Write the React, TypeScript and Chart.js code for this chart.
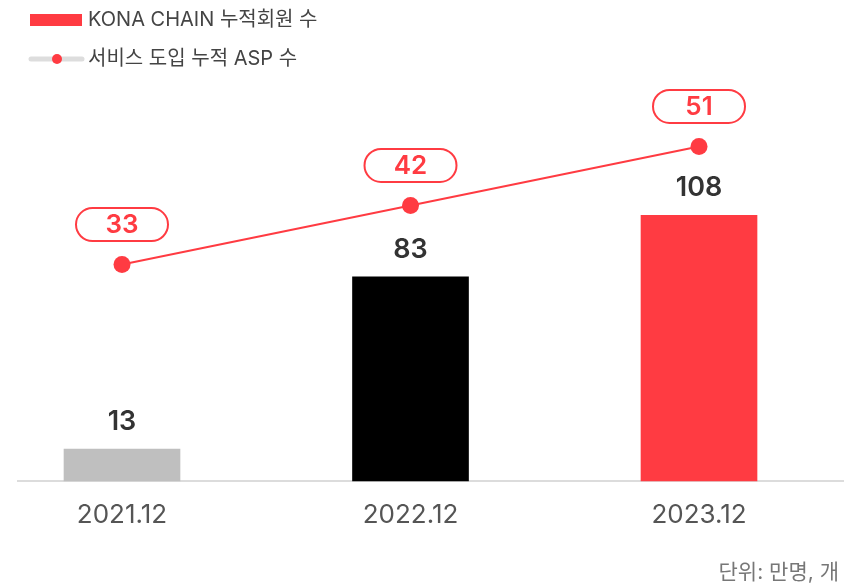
import { useEffect, useRef } from 'react';
import { Chart, registerables } from 'chart.js';

Chart.register(...registerables);

const categories = ['2021.12', '2022.12', '2023.12'];
const memberValues = [13, 83, 108];
const aspValues = [33, 42, 51];
const barColors = ['#BFBFBF', '#000000', '#FF3B42'];
const memberLabel = 'KONA CHAIN 누적회원 수';
const aspLabel = '서비스 도입 누적 ASP 수';
const unitText = '단위: 만명, 개';

const RED = '#FF3B42';
const FONT = "Inter, 'Noto Sans CJK KR', sans-serif";

const overlayPlugin = {
  id: 'overlay',
  afterDatasetsDraw(chart: any) {
    const ctx = chart.ctx as CanvasRenderingContext2D;
    ctx.save();
    ctx.textAlign = 'center';
    ctx.textBaseline = 'middle';
    const barMeta = chart.getDatasetMeta(1);
    barMeta.data.forEach((el: any, i: number) => {
      ctx.font = `600 27px ${FONT}`;
      ctx.fillStyle = '#333333';
      ctx.fillText(String(memberValues[i]), el.x, el.y - 27);
    });
    const lineMeta = chart.getDatasetMeta(0);
    lineMeta.data.forEach((el: any, i: number) => {
      const w = 92;
      const h = 33;
      const cx = el.x;
      const cy = el.y - 40;
      ctx.beginPath();
      (ctx as any).roundRect(cx - w / 2, cy - h / 2, w, h, h / 2);
      ctx.fillStyle = '#ffffff';
      ctx.fill();
      ctx.lineWidth = 2;
      ctx.strokeStyle = RED;
      ctx.stroke();
      ctx.fillStyle = RED;
      ctx.font = `600 26px ${FONT}`;
      ctx.fillText(String(aspValues[i]), cx, cy + 1);
    });
    ctx.restore();
  },
  afterDraw(chart: any) {
    const ctx = chart.ctx as CanvasRenderingContext2D;
    ctx.save();
    // legend item 1
    ctx.fillStyle = RED;
    ctx.fillRect(30, 14, 52, 12);
    ctx.font = `400 20px ${FONT}`;
    ctx.fillStyle = '#444444';
    ctx.textAlign = 'left';
    ctx.textBaseline = 'middle';
    ctx.fillText(chart.data.datasets[1].label, 88, 20);
    // legend item 2
    ctx.strokeStyle = '#DDDDDD';
    ctx.lineWidth = 5;
    ctx.lineCap = 'round';
    ctx.beginPath();
    ctx.moveTo(31, 59);
    ctx.lineTo(82, 59);
    ctx.stroke();
    ctx.fillStyle = RED;
    ctx.beginPath();
    ctx.arc(57, 59, 5, 0, Math.PI * 2);
    ctx.fill();
    ctx.fillStyle = '#444444';
    ctx.fillText(chart.data.datasets[0].label, 88, 59);
    // unit
    ctx.font = `400 21px ${FONT}`;
    ctx.fillStyle = '#777777';
    ctx.textAlign = 'right';
    ctx.fillText(unitText, 839, 573);
    ctx.restore();
  },
};

export default function App() {
  const ref = useRef<HTMLCanvasElement | null>(null);
  useEffect(() => {
    if (!ref.current) return;
    const chart = new Chart(ref.current, {
      type: 'bar',
      data: {
        datasets: [
          {
            type: 'line',
            label: aspLabel,
            data: aspValues.map((v, i) => ({ x: i, y: v })),
            yAxisID: 'y2',
            borderColor: RED,
            borderWidth: 2,
            pointRadius: 8.5,
            pointBackgroundColor: RED,
            pointBorderWidth: 0,
            tension: 0,
            clip: false,
          } as any,
          {
            type: 'bar',
            label: memberLabel,
            data: memberValues.map((v, i) => ({ x: i, y: v })),
            yAxisID: 'y',
            backgroundColor: barColors,
            barThickness: 116,
            borderWidth: 0,
            clip: false,
          } as any,
        ],
      },
      options: {
        responsive: false,
        animation: false,
        layout: { padding: { top: 91, left: 18, right: 9, bottom: 0 } },
        plugins: { legend: { display: false }, tooltip: { enabled: false } },
        scales: {
          x: {
            type: 'linear',
            offset: false,
            min: -0.3605,
            max: 2.4991,
            afterBuildTicks: (axis: any) => {
              axis.ticks = categories.map((_, i) => ({ value: i }));
            },
            afterFit: (axis: any) => {
              axis.height = 105;
            },
            grid: { display: false, drawTicks: false },
            border: { display: true, color: '#DCDCDC', width: 2 },
            ticks: {
              autoSkip: false,
              maxRotation: 0,
              padding: 19,
              color: '#555555',
              font: { family: FONT, size: 26, weight: '400' as any },
              callback: (v: any) => categories[v] ?? '',
            },
          },
          y: { display: false, min: 0, max: 158.5 },
          y2: { display: false, min: 0, max: 59.45 },
        },
      },
      plugins: [overlayPlugin],
    });
    return () => chart.destroy();
  }, []);
  return (
    <div style={{ position: 'absolute', left: 0, top: 0, width: 852, height: 586, background: '#fff' }}>
      <canvas ref={ref} width={852} height={586} style={{ width: 852, height: 586 }} />
    </div>
  );
}
